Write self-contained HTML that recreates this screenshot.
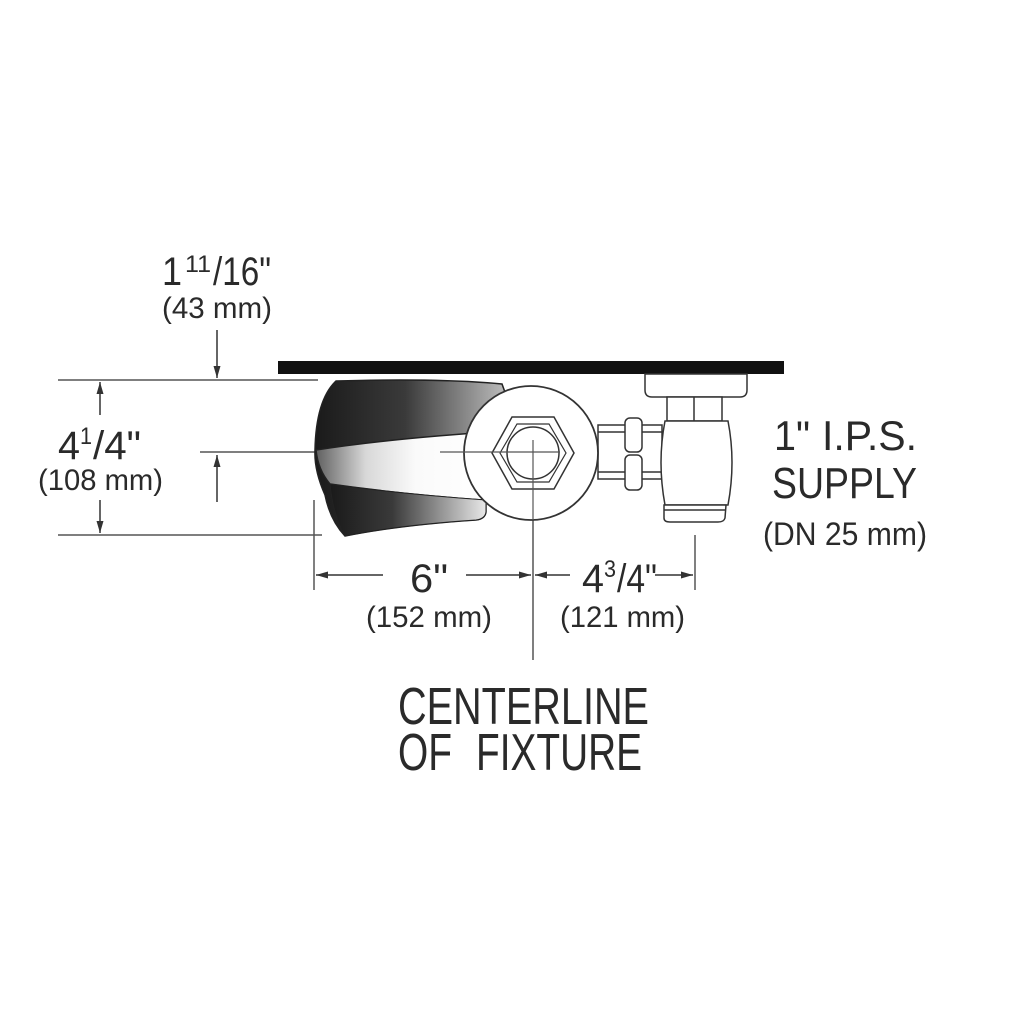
<!DOCTYPE html>
<html><head><meta charset="utf-8"><style>
html,body{margin:0;padding:0;background:#fff;}
svg{display:block;}
text{font-family:"Liberation Sans",sans-serif;fill:#2a2a2a;}
</style></head><body>
<svg width="1024" height="1024" viewBox="0 0 1024 1024" xmlns="http://www.w3.org/2000/svg">
<defs>
<linearGradient id="dk" x1="0" x2="1" y1="0" y2="0">
<stop offset="0" stop-color="#1a1a1a"/><stop offset="0.45" stop-color="#3a3a3a"/><stop offset="1" stop-color="#c8c8c8"/>
</linearGradient>
<linearGradient id="lt" x1="0" x2="1" y1="0" y2="0">
<stop offset="0" stop-color="#606060"/><stop offset="0.3" stop-color="#d8d8d8"/><stop offset="0.6" stop-color="#fafafa"/><stop offset="1" stop-color="#fff"/>
</linearGradient>
<linearGradient id="dk2" x1="0" x2="1" y1="0" y2="0">
<stop offset="0" stop-color="#1a1a1a"/><stop offset="0.4" stop-color="#3a3a3a"/><stop offset="1" stop-color="#e8e8e8"/>
</linearGradient>
<marker id="ah" markerWidth="12" markerHeight="8" refX="12" refY="4" orient="auto" markerUnits="userSpaceOnUse">
<path d="M0,0.5 L12,4 L0,7.5 Z" fill="#333"/></marker>
</defs>

<rect x="278" y="361" width="506" height="13" fill="#111"/>

<g stroke="#555" stroke-width="1.5" fill="none">
<line x1="58" y1="380" x2="318" y2="380"/>
<line x1="200" y1="452" x2="318" y2="452"/>
<line x1="58" y1="535" x2="322" y2="535"/>
<line x1="314" y1="500" x2="314" y2="590"/>
<line x1="533" y1="455" x2="533" y2="660"/>
<line x1="695" y1="535" x2="695" y2="590"/>
</g>

<path d="M336,381 Q440,378 502,384 L515,420 L515,500 L486,500 L486,512 Q485,519 476,520 Q400,525 345,536 Q330,520 325,495 Q314,470 315,450 Q316,400 336,381 Z" fill="url(#dk)" stroke="#222" stroke-width="1.5"/>
<path d="M316,450 Q380,440 475,433 L482,500 Q400,494 330,484 Q318,470 316,450 Z" fill="url(#lt)" stroke="#222" stroke-width="1.5"/>
<path d="M330,484 Q400,494 486,500 L486,512 Q485,519 476,520 Q400,525 345,536 Q333,515 330,484 Z" fill="url(#dk2)" stroke="#222" stroke-width="1"/>

<g stroke="#333" stroke-width="1.5" fill="#fff">
<rect x="598" y="425" width="64" height="54"/>
<line x1="598" y1="432" x2="662" y2="432"/><line x1="598" y1="472" x2="662" y2="472"/>
<rect x="625" y="418" width="17" height="34" rx="5"/>
<rect x="625" y="455" width="17" height="35" rx="5"/>
<path d="M645,374 L747,374 L747,390 Q747,397 740,397 L652,397 Q645,397 645,390 Z"/>
<rect x="667" y="397" width="55" height="24"/>
<line x1="694" y1="397" x2="694" y2="421"/>
<path d="M665,421 L728,421 Q736,462 728,505 L665,505 Q657,462 665,421 Z"/>
<path d="M664,505 L726,505 L725,518 Q724,522 718,522 L670,522 Q664,522 664,518 Z"/>
<line x1="664" y1="510" x2="726" y2="510"/>
</g>

<circle cx="531" cy="453" r="67" fill="#fff" stroke="#333" stroke-width="1.8"/>
<polygon points="492,453 512,417 554,417 574,453 554,489 512,489" fill="#fff" stroke="#333" stroke-width="1.5"/>
<polygon points="500,453 517,424 549,424 566,453 549,482 517,482" fill="none" stroke="#333" stroke-width="1.2"/>
<circle cx="533" cy="453" r="26" fill="#fff" stroke="#333" stroke-width="1.5"/>
<line x1="440" y1="452" x2="560" y2="452" stroke="#555" stroke-width="1.2"/>
<line x1="533" y1="440" x2="533" y2="520" stroke="#555" stroke-width="1.2"/>

<g stroke="#333" stroke-width="1.5" marker-end="url(#ah)">
<line x1="217" y1="330" x2="217" y2="378"/>
<line x1="100" y1="415" x2="100" y2="382"/>
<line x1="100" y1="500" x2="100" y2="533"/>
<line x1="217" y1="502" x2="217" y2="455"/>
<line x1="383" y1="575" x2="316" y2="575"/>
<line x1="466" y1="575" x2="531" y2="575"/>
<line x1="570" y1="575" x2="535" y2="575"/>
<line x1="655" y1="575" x2="693" y2="575"/>
</g>

<text x="162" y="285" font-size="40" textLength="20" lengthAdjust="spacingAndGlyphs">1</text>
<text x="185" y="272" font-size="24" textLength="26" lengthAdjust="spacingAndGlyphs">11</text>
<text x="213" y="285" font-size="40" textLength="58" lengthAdjust="spacingAndGlyphs">/16"</text>
<text x="162" y="318" font-size="30" textLength="110" lengthAdjust="spacingAndGlyphs">(43 mm)</text>

<text x="58" y="459" font-size="40" textLength="22" lengthAdjust="spacingAndGlyphs">4</text>
<text x="80" y="444" font-size="24" textLength="12" lengthAdjust="spacingAndGlyphs">1</text>
<text x="93" y="459" font-size="40" textLength="48" lengthAdjust="spacingAndGlyphs">/4"</text>
<text x="38" y="490" font-size="30" textLength="125" lengthAdjust="spacingAndGlyphs">(108 mm)</text>

<text x="410" y="592" font-size="40" textLength="38" lengthAdjust="spacingAndGlyphs">6"</text>
<text x="366" y="627" font-size="30" textLength="126" lengthAdjust="spacingAndGlyphs">(152 mm)</text>

<text x="582" y="592" font-size="40" textLength="22" lengthAdjust="spacingAndGlyphs">4</text>
<text x="604" y="577" font-size="24" textLength="12" lengthAdjust="spacingAndGlyphs">3</text>
<text x="617" y="592" font-size="40" textLength="40" lengthAdjust="spacingAndGlyphs">/4"</text>
<text x="560" y="627" font-size="30" textLength="125" lengthAdjust="spacingAndGlyphs">(121 mm)</text>

<text x="774" y="450" font-size="42" textLength="36" lengthAdjust="spacingAndGlyphs">1"</text>
<text x="822" y="450" font-size="42" textLength="95" lengthAdjust="spacingAndGlyphs">I.P.S.</text>
<text x="772" y="498" font-size="44" textLength="145" lengthAdjust="spacingAndGlyphs">SUPPLY</text>
<text x="763" y="545" font-size="32" textLength="164" lengthAdjust="spacingAndGlyphs">(DN 25 mm)</text>

<text x="398" y="724" font-size="52" textLength="251" lengthAdjust="spacingAndGlyphs">CENTERLINE</text>
<text x="398" y="770" font-size="52" textLength="54" lengthAdjust="spacingAndGlyphs">OF</text>
<text x="476" y="770" font-size="52" textLength="166" lengthAdjust="spacingAndGlyphs">FIXTURE</text>
</svg>
</body></html>
